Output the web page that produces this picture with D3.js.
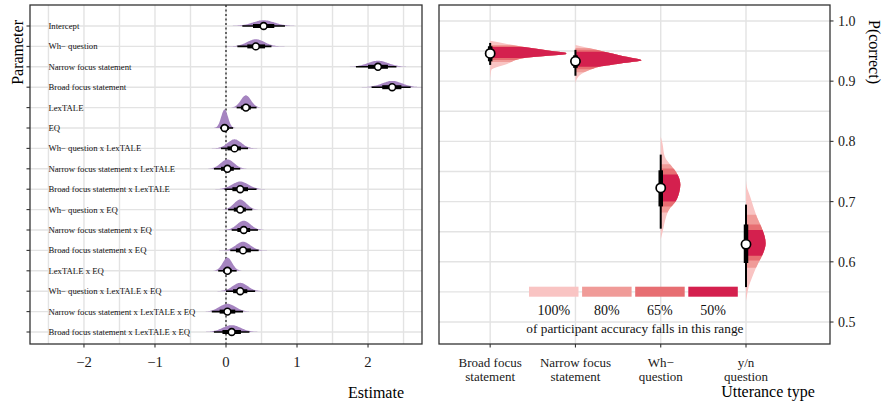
<!DOCTYPE html>
<html><head><meta charset="utf-8">
<script src="https://cdn.jsdelivr.net/npm/d3@7"></script>
<style>
html,body{margin:0;padding:0;background:#fff;}
svg{display:block;font-family:"Liberation Serif","Times New Roman",serif;}
</style></head>
<body>
<svg id="chart" width="883" height="405"></svg>
<script>
// ---------------- LEFT PANEL DATA (posterior estimates) ----------------
const parameters = [
  "Intercept","Wh\u2212 question","Narrow focus statement","Broad focus statement",
  "LexTALE","EQ","Wh\u2212 question x LexTALE","Narrow focus statement x LexTALE",
  "Broad focus statement x LexTALE","Wh\u2212 question x EQ","Narrow focus statement x EQ",
  "Broad focus statement x EQ","LexTALE x EQ","Wh\u2212 question x LexTALE x EQ",
  "Narrow focus statement x LexTALE x EQ","Broad focus statement x LexTALE x EQ"
];
const estimate = [0.53,0.42,2.14,2.34,0.28,-0.02,0.12,0.02,0.20,0.20,0.25,0.24,0.02,0.20,0.02,0.08];
const lower95  = [0.23,0.16,1.83,2.05,0.15,-0.085,-0.07,-0.17,-0.02,0.03,0.08,0.06,-0.11,0.00,-0.20,-0.17];
const upper95  = [0.83,0.64,2.40,2.60,0.43,0.10,0.31,0.20,0.43,0.37,0.45,0.46,0.15,0.41,0.24,0.33];
const lower66  = [0.38,0.30,2.00,2.20,0.21,-0.05,0.02,-0.07,0.09,0.11,0.16,0.14,-0.04,0.10,-0.09,-0.05];
const upper66  = [0.68,0.55,2.28,2.47,0.35,0.04,0.21,0.11,0.31,0.28,0.34,0.35,0.08,0.30,0.13,0.21];
const estTicks = [-2,-1,0,1,2];
const estMinor = [-2.5,-1.5,-0.5,0.5,1.5,2.5];

// ---------------- RIGHT PANEL DATA (participant accuracy) ----------------
const utterances = [["Broad focus","statement"],["Narrow focus","statement"],["Wh\u2212","question"],["y/n","question"]];
const accPoint   = [0.946,0.933,0.7227,0.629];
const accThin    = [[0.927,0.9635],[0.909,0.952],[0.655,0.778],[0.558,0.695]];
const accThick   = [[0.933,0.958],[0.922,0.943],[0.692,0.752],[0.598,0.662]];
// [value, density] profiles read from the slabs
const accDensity = [
  [[0.967,0],[0.9618,8.8],[0.9568,17.7],[0.9535,25],[0.9502,32],[0.9468,39.5],[0.9452,39.5],[0.9418,28.6],[0.9385,17.7],[0.9286,8.8],[0.9186,0.6],[0.912,0.3],[0.905,0]],
  [[0.960,0],[0.9552,6.8],[0.949,15],[0.942,24.4],[0.9347,34.3],[0.9294,23.4],[0.924,12.5],[0.9186,7.3],[0.912,3.1],[0.902,0.5],[0.8965,0]],
  [[0.808,0],[0.797,0.9],[0.775,2.1],[0.759,5.6],[0.748,8.2],[0.728,10.2],[0.714,9.5],[0.7005,7.8],[0.6864,4.3],[0.6725,2.6],[0.653,1.2],[0.6365,0]],
  [[0.735,0],[0.725,0.4],[0.709,2.1],[0.692,3.8],[0.675,5.6],[0.659,7.8],[0.642,9.7],[0.631,10.2],[0.615,9.0],[0.598,6.4],[0.5864,4.7],[0.5726,3.0],[0.5586,1.4],[0.542,0.4],[0.535,0]]
];
const bandLabels = ["100%","80%","65%","50%"];
// ranges per utterance for each band (100%, 80%, 65%, 50%)
const accBands = [
  [[0.905,0.967],[0.932,0.960],[0.935,0.958],[0.9385,0.9568]],
  [[0.8965,0.960],[0.915,0.955],[0.920,0.952],[0.924,0.949]],
  [[0.637,0.808],[0.682,0.762],[0.692,0.755],[0.700,0.745]],
  [[0.535,0.735],[0.590,0.678],[0.602,0.662],[0.610,0.653]]
];
const accTicks = [0.5,0.6,0.7,0.8,0.9,1.0];
const accMinor = [0.55,0.65,0.75,0.85,0.95];

// ---------------- STYLE ----------------
const bandColors = ["#f9c4c3","#f09b98","#e76e72","#d4204e"];
const purple = "#a584c0";
const gridCol = "#e3e3e3";
const frameCol = "#333333";
const textCol = "#1a1a1a";

const svg = d3.select("#chart");

// ================= LEFT PANEL =================
const LP = {x0:30, x1:422, y0:5, y1:344};
const xL = d3.scaleLinear().domain([-2.76,2.76]).range([LP.x0,LP.x1]);
const yL = d3.scalePoint().domain(parameters).range([26,332]);
const gL = svg.append("g");

// grid
gL.selectAll(".vmin").data(estMinor.concat(estTicks)).enter().append("line")
  .attr("x1",d=>xL(d)).attr("x2",d=>xL(d)).attr("y1",LP.y0).attr("y2",LP.y1)
  .attr("stroke",gridCol).attr("stroke-width",1.4);
gL.selectAll(".hgrid").data(parameters).enter().append("line")
  .attr("x1",LP.x0).attr("x2",LP.x1).attr("y1",d=>yL(d)).attr("y2",d=>yL(d))
  .attr("stroke",gridCol).attr("stroke-width",1.4);
// zero reference line
gL.append("line").attr("x1",xL(0)).attr("x2",xL(0)).attr("y1",LP.y0).attr("y2",LP.y1)
  .attr("stroke","#222").attr("stroke-width",1.3).attr("stroke-dasharray","2,2.5");
// labels inside panel
gL.selectAll(".plab").data(parameters).enter().append("text")
  .attr("x",xL(-2.5)).attr("y",d=>yL(d)+3).attr("font-size",8.7).attr("fill","#111")
  .text(d=>d);
// slabs
const kThick = 2.2;
parameters.forEach((p,i)=>{
  const m = estimate[i], sd = (upper95[i]-lower95[i])/3.92;
  const pts = d3.range(0,61).map(j=>{
    const v = m - 3.3*sd + j*(6.6*sd/60);
    const dens = Math.exp(-0.5*((v-m)/sd)**2)/(sd*Math.sqrt(2*Math.PI));
    return [v,dens];
  });
  const area = d3.area().x(d=>xL(d[0])).y0(yL(p)).y1(d=>yL(p)-d[1]*kThick).curve(d3.curveBasis);
  gL.append("path").attr("d",area(pts)).attr("fill",purple);
});
// intervals
gL.selectAll(".thin").data(parameters).enter().append("line")
  .attr("x1",(d,i)=>xL(lower95[i])).attr("x2",(d,i)=>xL(upper95[i]))
  .attr("y1",d=>yL(d)).attr("y2",d=>yL(d)).attr("stroke","#000").attr("stroke-width",1.6);
gL.selectAll(".thick").data(parameters).enter().append("line")
  .attr("x1",(d,i)=>xL(lower66[i])).attr("x2",(d,i)=>xL(upper66[i]))
  .attr("y1",d=>yL(d)).attr("y2",d=>yL(d)).attr("stroke","#000").attr("stroke-width",4);
gL.selectAll(".pt").data(parameters).enter().append("circle")
  .attr("cx",(d,i)=>xL(estimate[i])).attr("cy",d=>yL(d)).attr("r",3.4)
  .attr("fill","#fff").attr("stroke","#000").attr("stroke-width",1.6);
// frame
gL.append("rect").attr("x",LP.x0).attr("y",LP.y0).attr("width",LP.x1-LP.x0).attr("height",LP.y1-LP.y0)
  .attr("fill","none").attr("stroke",frameCol).attr("stroke-width",1.3);
// axes ticks
gL.selectAll(".xt").data(estTicks).enter().append("line")
  .attr("x1",d=>xL(d)).attr("x2",d=>xL(d)).attr("y1",LP.y1).attr("y2",LP.y1+3.5)
  .attr("stroke",frameCol).attr("stroke-width",1.1);
gL.selectAll(".xtl").data(estTicks).enter().append("text")
  .attr("x",d=>xL(d)).attr("y",367).attr("text-anchor","middle").attr("font-size",14.7).attr("fill",textCol)
  .text(d=>d<0?"\u2212"+Math.abs(d):d);
gL.selectAll(".yt").data(parameters).enter().append("line")
  .attr("x1",LP.x0-3.5).attr("x2",LP.x0).attr("y1",d=>yL(d)).attr("y2",d=>yL(d))
  .attr("stroke",frameCol).attr("stroke-width",1.1);
// titles
svg.append("text").attr("transform","translate(22.5,20) rotate(-90)").attr("text-anchor","end")
  .attr("font-size",16).attr("fill","#000").text("Parameter");
svg.append("text").attr("x",376).attr("y",398).attr("text-anchor","middle")
  .attr("font-size",16).attr("fill","#000").text("Estimate");

// ================= RIGHT PANEL =================
const RP = {x0:439, x1:830, y0:5, y1:344};
const xR = d3.scaleLinear().domain([0.4,4.985]).range([RP.x0,RP.x1]);
const yR = d3.scaleLinear().domain([0.4635,1.0265]).range([RP.y1,RP.y0]);
const densX = d3.scaleLinear().domain([0,40]).range([0,77]);
const gR = svg.append("g");
const defs = svg.append("defs");

gR.selectAll(".hg").data(accMinor.concat(accTicks)).enter().append("line")
  .attr("x1",RP.x0).attr("x2",RP.x1).attr("y1",d=>yR(d)).attr("y2",d=>yR(d))
  .attr("stroke",gridCol).attr("stroke-width",1.4);
gR.selectAll(".vg").data(utterances).enter().append("line")
  .attr("x1",(d,i)=>xR(i+1)).attr("x2",(d,i)=>xR(i+1)).attr("y1",RP.y0).attr("y2",RP.y1)
  .attr("stroke",gridCol).attr("stroke-width",1.4);

// slabs
utterances.forEach((u,i)=>{
  const cx = xR(i+1);
  const area = d3.area().y(d=>yR(d[0])).x0(cx).x1(d=>cx+densX(d[1])).curve(d3.curveMonotoneY);
  const dpath = area(accDensity[i]);
  accBands[i].forEach((b,j)=>{
    const id = "clip"+i+"_"+j;
    defs.append("clipPath").attr("id",id).append("rect")
      .attr("x",cx-1).attr("width",120).attr("y",yR(b[1])).attr("height",yR(b[0])-yR(b[1]));
    gR.append("path").attr("d",dpath).attr("fill",bandColors[j]).attr("clip-path","url(#"+id+")");
  });
});
// intervals
gR.selectAll(".rthin").data(utterances).enter().append("line")
  .attr("x1",(d,i)=>xR(i+1)).attr("x2",(d,i)=>xR(i+1))
  .attr("y1",(d,i)=>yR(accThin[i][0])).attr("y2",(d,i)=>yR(accThin[i][1]))
  .attr("stroke","#000").attr("stroke-width",2);
gR.selectAll(".rthick").data(utterances).enter().append("line")
  .attr("x1",(d,i)=>xR(i+1)).attr("x2",(d,i)=>xR(i+1))
  .attr("y1",(d,i)=>yR(accThick[i][0])).attr("y2",(d,i)=>yR(accThick[i][1]))
  .attr("stroke","#000").attr("stroke-width",4.5);
gR.selectAll(".rpt").data(utterances).enter().append("circle")
  .attr("cx",(d,i)=>xR(i+1)).attr("cy",(d,i)=>yR(accPoint[i])).attr("r",4.6)
  .attr("fill","#fff").attr("stroke","#000").attr("stroke-width",1.7);

// legend
const legX0 = 529, legStep = 53.1, legW = 49.5;
gR.selectAll(".legr").data(bandLabels).enter().append("rect")
  .attr("x",(d,i)=>legX0+i*legStep).attr("y",286.7).attr("width",legW).attr("height",10)
  .attr("fill",(d,i)=>bandColors[i]);
gR.selectAll(".legt").data(bandLabels).enter().append("text")
  .attr("x",(d,i)=>legX0+i*legStep+legW/2).attr("y",315).attr("text-anchor","middle")
  .attr("font-size",14).attr("fill","#111").text(d=>d);
gR.append("text").attr("x",634.9).attr("y",333).attr("text-anchor","middle")
  .attr("font-size",13.3).attr("fill","#111").text("of participant accuracy falls in this range");

// frame
gR.append("rect").attr("x",RP.x0).attr("y",RP.y0).attr("width",RP.x1-RP.x0).attr("height",RP.y1-RP.y0)
  .attr("fill","none").attr("stroke",frameCol).attr("stroke-width",1.3);
// axes
gR.selectAll(".rxt").data(utterances).enter().append("line")
  .attr("x1",(d,i)=>xR(i+1)).attr("x2",(d,i)=>xR(i+1)).attr("y1",RP.y1).attr("y2",RP.y1+3.5)
  .attr("stroke",frameCol).attr("stroke-width",1.1);
utterances.forEach((u,i)=>{
  u.forEach((line,k)=>{
    gR.append("text").attr("x",xR(i+1)).attr("y",367+k*13.5).attr("text-anchor","middle")
      .attr("font-size",13).attr("fill",textCol).text(line);
  });
});
gR.selectAll(".ryt").data(accTicks).enter().append("line")
  .attr("x1",RP.x1).attr("x2",RP.x1+3.5).attr("y1",d=>yR(d)).attr("y2",d=>yR(d))
  .attr("stroke",frameCol).attr("stroke-width",1.1);
gR.selectAll(".rytl").data(accTicks).enter().append("text")
  .attr("x",838).attr("y",d=>yR(d)+5).attr("font-size",14).attr("fill",textCol)
  .text(d=>d.toFixed(1));
svg.append("text").attr("transform","translate(868.5,20) rotate(90)").attr("text-anchor","start")
  .attr("font-size",16).attr("fill","#000").text("P(correct)");
svg.append("text").attr("x",768).attr("y",397).attr("text-anchor","middle")
  .attr("font-size",16).attr("fill","#000").text("Utterance type");
</script>
</body></html>
